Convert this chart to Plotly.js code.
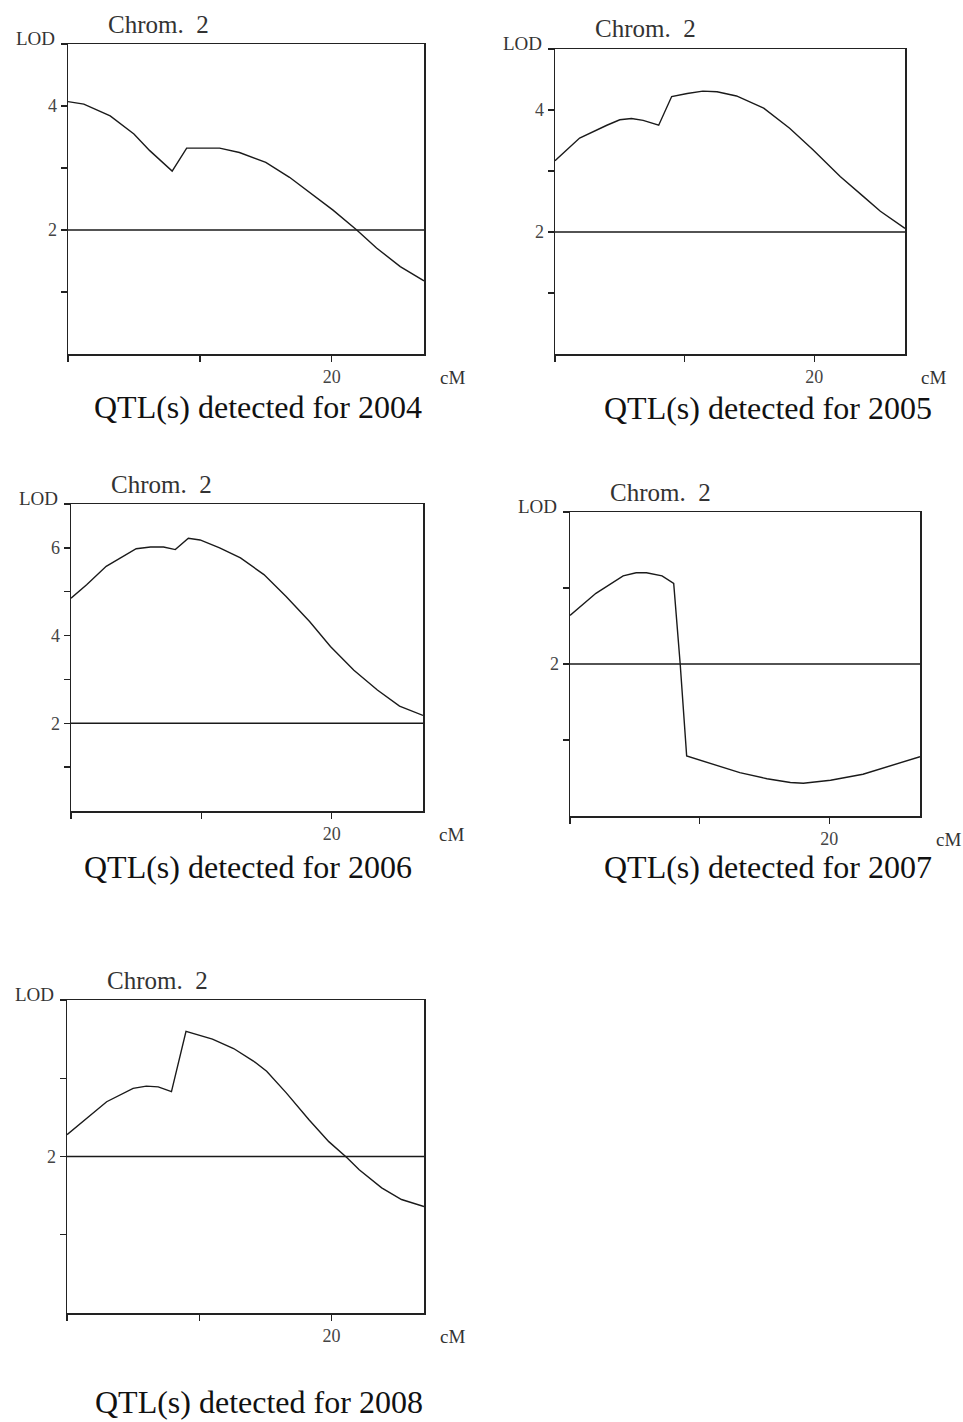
<!DOCTYPE html>
<html>
<head>
<meta charset="utf-8">
<script src="https://cdn.plot.ly/plotly-3.0.1.min.js"></script>
<style>html,body{margin:0;padding:0;background:#fff;}#chart{width:963px;height:1422px;}</style>
</head>
<body>
<div id="chart"></div>
<script>
// ---- data (cM position, LOD score) ----
const years = ["2004", "2005", "2006", "2007", "2008"];

const x2004 = [0, 1.2, 3.2, 5.0, 6.2, 7.9, 9.0, 11.5, 13.0, 15.0, 16.8, 18.8, 20.1, 21.9, 23.4, 25.2, 27];
const y2004 = [4.07, 4.03, 3.84, 3.55, 3.28, 2.95, 3.32, 3.32, 3.25, 3.09, 2.85, 2.53, 2.32, 2.0, 1.71, 1.41, 1.18];

const x2005 = [0, 1.9, 4.0, 5.0, 5.9, 6.8, 8.0, 9.0, 10.2, 11.4, 12.5, 14.0, 16.1, 18.1, 19.9, 22.0, 23.8, 25.1, 27];
const y2005 = [3.17, 3.54, 3.75, 3.84, 3.86, 3.83, 3.75, 4.22, 4.27, 4.31, 4.30, 4.23, 4.03, 3.70, 3.35, 2.91, 2.58, 2.34, 2.06];

const x2006 = [0, 1.2, 2.7, 4.3, 5.0, 6.1, 7.1, 8.0, 9.0, 9.9, 11.4, 13.0, 14.8, 16.5, 18.3, 19.9, 21.7, 23.5, 25.2, 27];
const y2006 = [4.85, 5.16, 5.58, 5.87, 5.98, 6.02, 6.02, 5.96, 6.22, 6.18, 6.0, 5.77, 5.39, 4.89, 4.32, 3.75, 3.21, 2.76, 2.39, 2.18];

const x2007 = [0, 2.0, 4.1, 5.1, 5.9, 7.1, 8.0, 8.5, 9.0, 11.0, 13.1, 15.2, 17.0, 18.0, 20.1, 22.6, 25.2, 27];
const y2007 = [2.64, 2.93, 3.16, 3.20, 3.20, 3.16, 3.06, 2.0, 0.79, 0.68, 0.57, 0.49, 0.44, 0.43, 0.47, 0.55, 0.68, 0.78];

const x2008 = [0, 1.5, 3.0, 5.0, 6.0, 6.9, 7.9, 9.0, 10.0, 11.0, 12.6, 14.1, 15.1, 16.6, 18.3, 19.8, 21.2, 22.1, 23.8, 25.3, 27];
const y2008 = [2.28, 2.49, 2.70, 2.87, 2.90, 2.89, 2.83, 3.60, 3.55, 3.50, 3.38, 3.22, 3.09, 2.81, 2.47, 2.19, 1.98, 1.83, 1.60, 1.45, 1.36];

const threshold = 2;
const xMax = 27;
const yMaxes = [5, 5, 7, 4, 4];
const xTickVals = [0, 10, 20];
const xTickText = ["", "", "20"];
const yLabelled = [[2, 4], [2, 4], [2, 4, 6], [2], [2]];
const titleText = "Chrom.\u00a0\u00a02";
const captionPrefix = "QTL(s) detected for ";

const seriesX = [x2004, x2005, x2006, x2007, x2008];
const seriesY = [y2004, y2005, y2006, y2007, y2008];

// ---- layout geometry (pixels) ----
const W = 963, H = 1422;
const boxes = [
  [68, 424, 44, 354],
  [555, 905, 49, 354],
  [71, 423, 504, 811],
  [570, 920, 512, 816],
  [67, 424, 1000, 1313]
];
const captions = [[258, 407], [768, 408], [248, 867], [768, 867], [259, 1402]];

const serif = "'Liberation Serif', 'Times New Roman', serif";
const traces = [];
const layout = {
  width: W, height: H,
  margin: {l: 0, r: 0, t: 0, b: 0},
  paper_bgcolor: "#fff", plot_bgcolor: "#fff",
  showlegend: false,
  annotations: [], shapes: []
};

for (let i = 0; i < 5; i++) {
  const n = i === 0 ? "" : String(i + 1);
  const xa = "x" + n, ya = "y" + n;
  const b = boxes[i];
  traces.push({
    x: seriesX[i], y: seriesY[i], xaxis: xa, yaxis: ya,
    type: "scatter", mode: "lines",
    line: {color: "#1a1a1a", width: 1.4, shape: "linear"},
    hoverinfo: "skip"
  });
  traces.push({
    x: [0, xMax], y: [threshold, threshold], xaxis: xa, yaxis: ya,
    type: "scatter", mode: "lines",
    line: {color: "#1a1a1a", width: 1.4},
    hoverinfo: "skip"
  });
  const yvals = [], ytext = [];
  for (let v = 1; v <= yMaxes[i]; v++) {
    yvals.push(v);
    ytext.push(yLabelled[i].includes(v) ? String(v) : "");
  }
  layout["xaxis" + n] = {
    domain: [b[0] / W, b[1] / W],
    anchor: ya, range: [0, xMax],
    showgrid: false, zeroline: false,
    showline: true, mirror: true, linecolor: "#222", linewidth: 1.5,
    ticks: "outside", ticklen: 6, tickwidth: 1.4, tickcolor: "#222",
    tickmode: "array", tickvals: xTickVals, ticktext: xTickText,
    tickfont: {family: serif, size: 18, color: "#444"},
    fixedrange: true
  };
  layout["yaxis" + n] = {
    domain: [1 - b[3] / H, 1 - b[2] / H],
    anchor: xa, range: [0, yMaxes[i]],
    showgrid: false, zeroline: false,
    showline: true, mirror: true, linecolor: "#222", linewidth: 1.5,
    ticks: "outside", ticklen: 6, tickwidth: 1.4, tickcolor: "#222",
    tickmode: "array", tickvals: yvals, ticktext: ytext,
    tickfont: {family: serif, size: 18, color: "#444"},
    fixedrange: true
  };
  layout.annotations.push({
    text: titleText, xref: xa + " domain", yref: ya + " domain",
    x: 0, y: 1, xshift: 90, yshift: 20, xanchor: "center", yanchor: "middle",
    showarrow: false, font: {family: serif, size: 25, color: "#333"}
  });
  layout.annotations.push({
    text: "LOD", xref: xa + " domain", yref: ya + " domain",
    x: 0, y: 1, xshift: -11, yshift: -7, xanchor: "right", yanchor: "bottom",
    showarrow: false, font: {family: serif, size: 19, color: "#333"}
  });
  layout.annotations.push({
    text: "cM", xref: xa + " domain", yref: ya + " domain",
    x: 1, y: 0, xshift: 28, yshift: -23, xanchor: "center", yanchor: "middle",
    showarrow: false, font: {family: serif, size: 19, color: "#333"}
  });
  layout.annotations.push({
    text: captionPrefix + years[i], xref: "paper", yref: "paper",
    x: captions[i][0] / W, y: 1 - captions[i][1] / H,
    xanchor: "center", yanchor: "middle",
    showarrow: false, font: {family: serif, size: 32, color: "#111"}
  });
}

Plotly.newPlot("chart", traces, layout, {staticPlot: true, displayModeBar: false});
</script>
</body>
</html>
